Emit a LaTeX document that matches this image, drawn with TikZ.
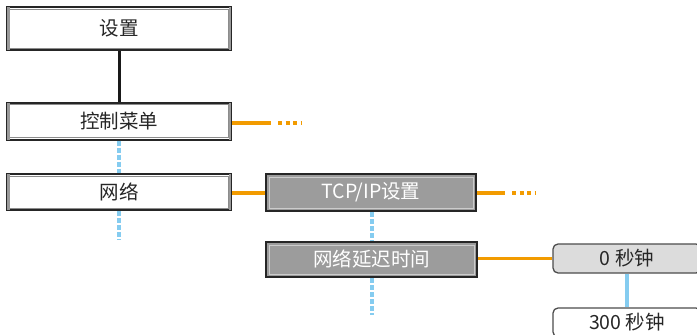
\documentclass[tikz,border=0pt]{standalone}
\usepackage{fontspec}
\setmainfont{Noto Sans CJK SC}
\definecolor{orline}{HTML}{F29B00}
\definecolor{blline}{HTML}{85CCF0}
\definecolor{boxgray}{HTML}{9C9C9C}
\definecolor{roundgray}{HTML}{DCDCDC}
\begin{document}
\begin{tikzpicture}[x=1pt,y=-1pt,
  every node/.style={font=\fontsize{19.5}{22}\selectfont},
  mainbox/.style={draw=black!85, line width=2pt, fill=white, inner sep=0pt, text=black!85},
  graybox/.style={draw=black!85, line width=2pt, fill=boxgray, inner sep=0pt, text=white},
  roundbox/.style={draw=black!70, line width=1.3pt, rounded corners=5pt, inner sep=0pt, text=black!85},
  orconn/.style={draw=orline, line width=3.5pt},
  ordots/.style={draw=orline, line width=3.5pt, dash pattern=on 4pt off 3.5pt},
  blconn/.style={draw=blline, line width=3.5pt},
  bldots/.style={draw=blline, line width=3.5pt, dash pattern=on 5pt off 2pt},
  innermain/.style={draw=black!45, line width=0.9pt},
  innergray/.style={draw=white!80!black, line width=0.9pt}
]
\useasboundingbox (0,0) rectangle (697,335);

\node[mainbox, minimum width=224pt, minimum height=43pt] (s1) at (119,28.5) {设置};
\node[mainbox, minimum width=224pt, minimum height=37pt] (s2) at (119,121) {控制菜单};
\node[mainbox, minimum width=224pt, minimum height=36pt] (s3) at (119,192) {网络};
\node[graybox, minimum width=210pt, minimum height=37pt] (t1) at (371,192.5) {TCP/IP设置};
\node[graybox, minimum width=211pt, minimum height=35pt] (t2) at (371.5,259.5) {网络延迟时间};
\node[roundbox, fill=roundgray, minimum width=148pt, minimum height=29pt] (r1) at (627,258.5) {0 秒钟};
\node[roundbox, fill=white, minimum width=148pt, minimum height=29pt] (r2) at (627,322.5) {300 秒钟};

\foreach \n in {s1,s2,s3}{
  \draw[innermain] ([shift={(3.5,3)}]\n.north west) rectangle ([shift={(-3.5,-3)}]\n.south east);
  \fill[black!40] ([shift={(1,1)}]\n.north west) rectangle ([shift={(3.5,-1)}]\n.south west);
  \fill[black!40] ([shift={(-3.5,1)}]\n.north east) rectangle ([shift={(-1,-1)}]\n.south east);
}
\foreach \n in {t1,t2}{
  \draw[innergray] ([shift={(4,4)}]\n.north west) rectangle ([shift={(-4,-4)}]\n.south east);
}

\coordinate (s2o) at (271,123);
\coordinate (s2d1) at (278,123);
\coordinate (s2d2) at (302,123);
\coordinate (s3d) at (119,240);
\coordinate (t1o) at (505,193);
\coordinate (t1d1) at (512,193);
\coordinate (t1d2) at (536,193);
\coordinate (t2d) at (372,315);

\draw[black!90, line width=3pt] (s1) -- (s2);
\draw[bldots] (s2) -- (s3);
\draw[bldots] (s3) -- (s3d);
\draw[orconn] (s2.east |- s2o) -- (s2o);
\draw[ordots] (s2d1) -- (s2d2);
\draw[orconn] (s3.east |- t1o) -- (t1.west |- t1o);
\draw[orconn] (t1.east |- t1o) -- (t1o);
\draw[ordots] (t1d1) -- (t1d2);
\draw[bldots] (t1.south -| t2d) -- (t2.north -| t2d);
\draw[bldots] (t2.south -| t2d) -- (t2d);
\draw[orconn] (t2.east |- r1.west) -- (r1.west);
\draw[blconn] (r1) -- (r2);
\end{tikzpicture}
\end{document}
